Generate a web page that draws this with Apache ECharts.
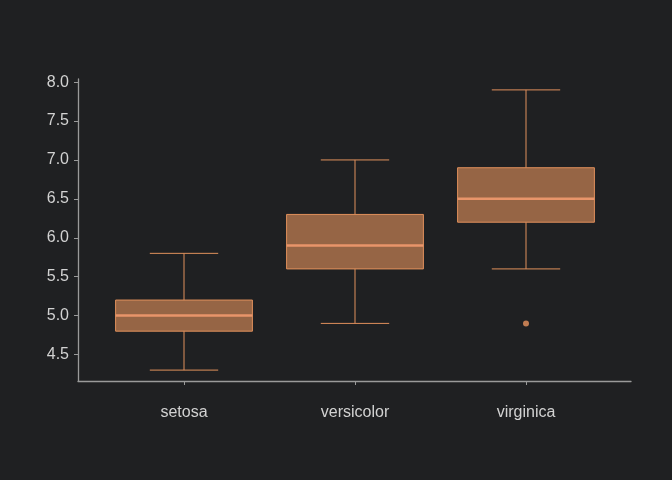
<!DOCTYPE html>
<html>
<head>
<meta charset="utf-8">
<script src="https://cdn.jsdelivr.net/npm/echarts@6/dist/echarts.min.js"></script>
<style>
html,body{margin:0;padding:0;background:#1f2022;}
#c{width:672px;height:480px;}
</style>
</head>
<body>
<div id="c"></div>
<script>
const categories = ['setosa', 'versicolor', 'virginica'];
const mins    = [4.3, 4.9, 5.6];
const q1s     = [4.8, 5.6, 6.2];
const medians = [5.0, 5.9, 6.5];
const q3s     = [5.2, 6.3, 6.9];
const maxs    = [5.8, 7.0, 7.9];
const outliers = [['virginica', 4.9]];
const yTicks = [4.5, 5.0, 5.5, 6.0, 6.5, 7.0, 7.5, 8.0];

const yMin = 4.16, yMax = 8.04;
const textColor = '#d2d2d2';
const axisColor = '#9a9a9a';
const orange = '#e0905c';

const boxData = categories.map((c, i) => [i, mins[i], q1s[i], medians[i], q3s[i], maxs[i]]);

const chart = echarts.init(document.getElementById('c'), null, {renderer: 'canvas'});
chart.setOption({
  backgroundColor: '#1f2022',
  animation: false,
  grid: [
    {left: 78, top: 79, width: 553, height: 302},
    {left: 98.5, top: 79, width: 513, height: 302}
  ],
  xAxis: [
    {gridIndex: 0, type: 'value', min: 0, max: 1,
     axisLine: {show: true, lineStyle: {color: axisColor, width: 1.3}},
     axisTick: {show: false}, axisLabel: {show: false}, splitLine: {show: false}},
    {gridIndex: 1, type: 'category', data: categories,
     axisLine: {show: false},
     axisTick: {show: true, alignWithLabel: true, length: 4, lineStyle: {color: axisColor}},
     axisLabel: {color: textColor, fontSize: 16, fontFamily: 'Liberation Sans, Arial, sans-serif', margin: 24},
     splitLine: {show: false}}
  ],
  yAxis: [
    {gridIndex: 0, type: 'value', min: yMin, max: yMax,
     axisLine: {show: true, lineStyle: {color: axisColor, width: 1.3}},
     axisTick: {show: true, length: 4, lineStyle: {color: axisColor}, customValues: yTicks},
     axisLabel: {color: textColor, fontSize: 16, fontFamily: 'Liberation Sans, Arial, sans-serif', margin: 9,
                 customValues: yTicks, formatter: v => Number(v).toFixed(1)},
     splitLine: {show: false}},
    {gridIndex: 1, type: 'value', min: yMin, max: yMax, show: false}
  ],
  series: [
    {
      type: 'custom',
      xAxisIndex: 1, yAxisIndex: 1,
      data: boxData,
      encode: {x: 0, y: [1, 2, 3, 4, 5]},
      renderItem: function (params, api) {
        const idx = api.value(0);
        const band = api.size([1, 0])[0];
        const bw = band * 0.8;
        const cw = bw / 2;
        const pMin = api.coord([idx, api.value(1)]);
        const pQ1 = api.coord([idx, api.value(2)]);
        const pMed = api.coord([idx, api.value(3)]);
        const pQ3 = api.coord([idx, api.value(4)]);
        const pMax = api.coord([idx, api.value(5)]);
        const x = pMed[0];
        const lineStyle = {stroke: orange, lineWidth: 1, fill: null};
        return {
          type: 'group',
          children: [
            {type: 'line', shape: {x1: x, y1: pMin[1], x2: x, y2: pQ1[1]}, style: lineStyle},
            {type: 'line', shape: {x1: x, y1: pQ3[1], x2: x, y2: pMax[1]}, style: lineStyle},
            {type: 'line', shape: {x1: x - cw / 2, y1: pMin[1], x2: x + cw / 2, y2: pMin[1]}, style: lineStyle},
            {type: 'line', shape: {x1: x - cw / 2, y1: pMax[1], x2: x + cw / 2, y2: pMax[1]}, style: lineStyle},
            {type: 'rect', shape: {x: x - bw / 2, y: pQ3[1], width: bw, height: pQ1[1] - pQ3[1]},
             style: {fill: 'rgba(230,148,94,0.6)', stroke: orange, lineWidth: 1}},
            {type: 'line', shape: {x1: x - bw / 2, y1: pMed[1], x2: x + bw / 2, y2: pMed[1]},
             style: {stroke: '#e8956a', lineWidth: 2.5}}
          ]
        };
      }
    },
    {
      type: 'scatter',
      xAxisIndex: 1, yAxisIndex: 1,
      data: outliers,
      symbolSize: 6,
      itemStyle: {color: '#e8935f'}
    }
  ]
});
</script>
</body>
</html>
